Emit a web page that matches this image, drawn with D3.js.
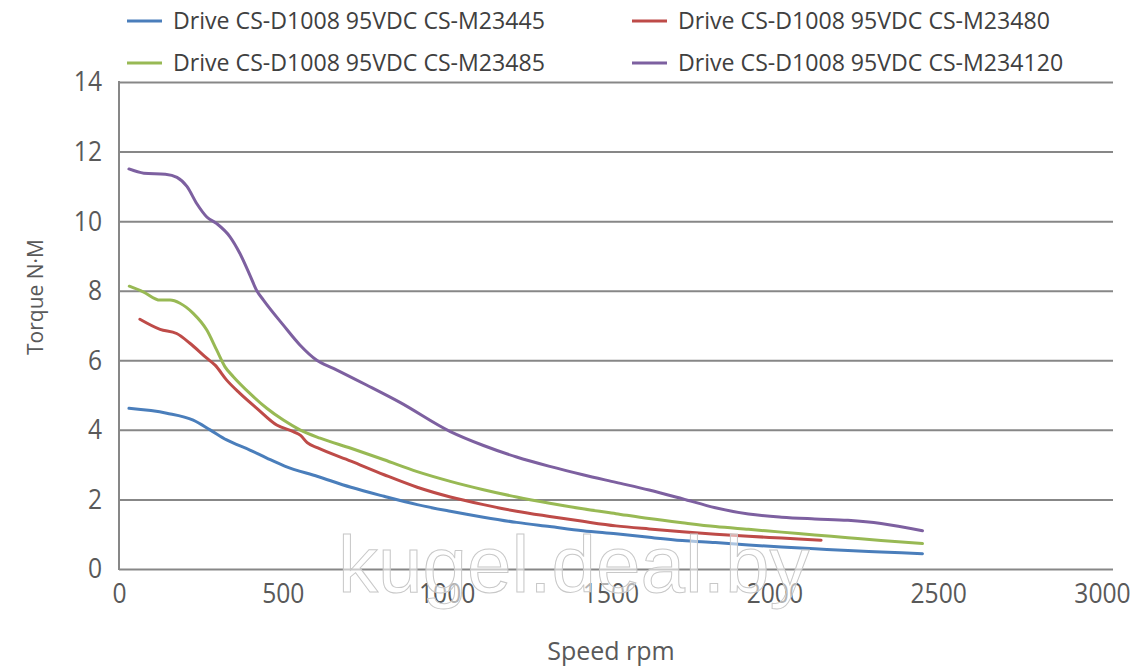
<!DOCTYPE html>
<html><head><meta charset="utf-8">
<script src="https://cdn.jsdelivr.net/npm/d3@7"></script>
<style>html,body{margin:0;padding:0;background:#fff;}svg{display:block;}</style>
</head><body><svg id="c" width="1148" height="667"></svg>
<script>
const seriesNames = ["Drive CS-D1008 95VDC CS-M23445","Drive CS-D1008 95VDC CS-M23480","Drive CS-D1008 95VDC CS-M23485","Drive CS-D1008 95VDC CS-M234120"];
const seriesColors = ["#4A7EBB","#BE4B48","#98B954","#7D60A0"];
const xTicks = [0,500,1000,1500,2000,2500,3000];
const yTicks = [0,2,4,6,8,10,12,14];
const m23445 = [[30,4.62],[144,4.48],[224,4.28],[275,4.0],[325,3.71],[395,3.42],[446,3.19],[500,2.96],[600,2.66],[700,2.35],[800,2.09],[900,1.85],[1000,1.66],[1100,1.49],[1200,1.34],[1300,1.22],[1400,1.1],[1500,1.01],[1600,0.91],[1700,0.82],[1800,0.76],[1900,0.69],[2000,0.63],[2100,0.58],[2200,0.53],[2300,0.49],[2425,0.44]];
const m23480 = [[63,7.18],[124,6.89],[174,6.77],[214,6.49],[265,6.06],[290,5.86],[325,5.43],[365,5.05],[416,4.62],[476,4.14],[526,3.95],[548,3.84],[568,3.63],[600,3.48],[700,3.1],[800,2.71],[900,2.35],[1000,2.07],[1100,1.85],[1200,1.66],[1300,1.51],[1400,1.37],[1500,1.24],[1600,1.15],[1700,1.07],[1800,1.0],[1900,0.94],[2000,0.89],[2119,0.83]];
const m23485 = [[31,8.13],[73,7.97],[124,7.73],[154,7.73],[184,7.64],[224,7.35],[265,6.87],[295,6.29],[320,5.81],[345,5.53],[395,5.05],[446,4.62],[496,4.28],[546,4.0],[607,3.76],[700,3.47],[800,3.14],[900,2.8],[1000,2.52],[1100,2.28],[1200,2.07],[1300,1.89],[1400,1.73],[1500,1.59],[1600,1.45],[1700,1.33],[1800,1.22],[1900,1.14],[2000,1.06],[2100,0.98],[2200,0.9],[2300,0.82],[2425,0.73]];
const m234120 = [[30,11.5],[75,11.38],[140,11.35],[175,11.26],[205,11.0],[235,10.5],[265,10.12],[295,9.93],[335,9.55],[365,9.07],[395,8.45],[416,8.0],[436,7.73],[496,7.01],[546,6.44],[597,6.0],[647,5.77],[747,5.29],[848,4.79],[1000,3.95],[1100,3.55],[1200,3.22],[1300,2.95],[1400,2.71],[1500,2.49],[1600,2.27],[1700,2.02],[1800,1.76],[1900,1.58],[2000,1.49],[2100,1.44],[2200,1.4],[2300,1.31],[2425,1.1]];
const seriesData = [m23445, m23480, m23485, m234120];
const xTitle = "Speed rpm", yTitle = "Torque N·M", watermark = "kugel.deal.by";

const svg = d3.select("#c");
const L = 119, R = 1113, T = 82, B = 569;
const x = d3.scaleLinear().domain([0,3000]).range([L,R]);
const xLab = d3.scaleLinear().domain([0,3000]).range([L,1102]);
const y = d3.scaleLinear().domain([0,14]).range([B,T]);
const font = "'Open Sans', sans-serif";
const grey = "#878787", txt = "#595959";
const sx = 0.88;

const gy = svg.append("g").attr("transform",`translate(${L},0)`)
  .call(d3.axisLeft(y).tickValues(yTicks).tickSize(-(R-L)).tickFormat(d3.format("d")));
gy.select(".domain").remove();
gy.selectAll(".tick line").attr("stroke",grey).attr("stroke-width",2);
gy.selectAll(".tick text").attr("fill",txt).style("font-family",font).style("font-size","28px")
  .attr("x",-17/sx).attr("transform",`scale(${sx},1)`);
svg.append("line").attr("x1",L).attr("x2",L).attr("y1",T-1).attr("y2",B+1).attr("stroke",grey).attr("stroke-width",2);

const gx = svg.append("g").attr("transform",`translate(0,${B})`)
  .call(d3.axisBottom(xLab).tickValues(xTicks).tickSize(0).tickPadding(18).tickFormat(d3.format("d")));
gx.select(".domain").remove();
gx.selectAll(".tick text").attr("fill",txt).style("font-family",font).style("font-size","28px")
  .attr("y",14).attr("transform",`scale(${sx},1)`);

const line = d3.line().x(d=>x(d[0])).y(d=>y(d[1])).curve(d3.curveMonotoneX);
svg.append("g").selectAll("path").data(seriesData).join("path")
  .attr("d",line).attr("fill","none").attr("stroke",(d,i)=>seriesColors[i]).attr("stroke-width",3).attr("stroke-linecap","round");

svg.append("text").attr("x",611).attr("y",660).attr("text-anchor","middle").attr("fill",txt)
  .style("font-family",font).style("font-size","25px").text(xTitle);
svg.append("text").attr("transform","translate(43,297) rotate(-90)").attr("text-anchor","middle").attr("fill",txt)
  .style("font-family",font).style("font-size","21px").text(yTitle);

const legPos = [[127,21],[632,21],[127,63],[632,63]];
const legend = svg.append("g").selectAll("g").data(seriesNames).join("g")
  .attr("transform",(d,i)=>`translate(${legPos[i][0]},${legPos[i][1]})`);
legend.append("line").attr("x1",0).attr("x2",35).attr("stroke",(d,i)=>seriesColors[i]).attr("stroke-width",3);
legend.append("text").attr("x",46).attr("dy","0.35em").attr("fill","#404040")
  .style("font-family",font).style("font-size","20px").text(d=>d);
const w0 = legend.select("text").node().getComputedTextLength();
legend.selectAll("text").style("font-size",(20*372/w0).toFixed(2)+"px");

svg.append("text").attr("x",338).attr("y",592).attr("fill","#fff").attr("fill-opacity",0.55)
  .attr("stroke","#c8c8c8").attr("stroke-width",1)
  .style("font-family","'Liberation Sans', Arial, sans-serif").style("font-size","80px").text(watermark);
</script></body></html>
